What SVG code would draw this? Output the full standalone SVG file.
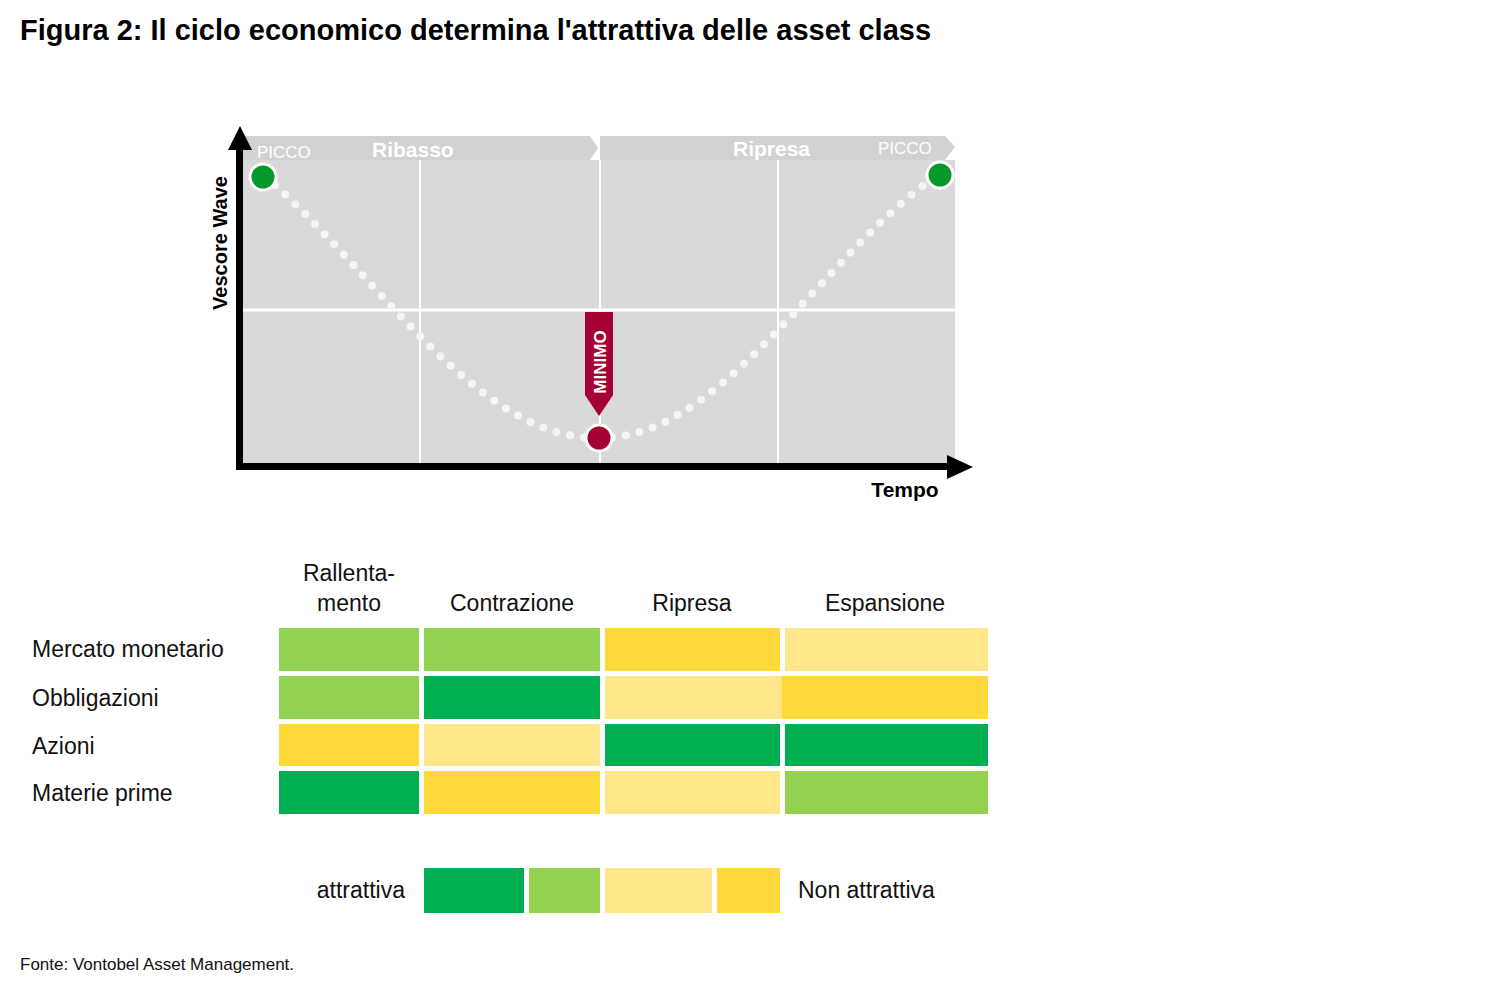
<svg xmlns="http://www.w3.org/2000/svg" width="1500" height="989" viewBox="0 0 1500 989">
<style>
text{font-family:"Liberation Sans",Arial,sans-serif}
.lbl{font-size:23px;fill:#111}
.g1{fill:#00b050}.g2{fill:#92d050}.y1{fill:#ffe68a}.y2{fill:#ffd93a}
.hdr{font-size:21px;font-weight:bold;fill:#fff}
.pk{font-size:17px;fill:#fff}
</style>
<rect width="1500" height="989" fill="#fff"/>
<text x="20" y="40" font-size="29" font-weight="bold" fill="#000">Figura 2: Il ciclo economico determina l'attrattiva delle asset class</text>
<g id="chart">
<rect x="243" y="160" width="712" height="305" fill="#d9d9d9"/>
<g stroke="#fff" stroke-width="2">
<line x1="420" y1="160" x2="420" y2="465"/><line x1="600" y1="160" x2="600" y2="465"/><line x1="778" y1="160" x2="778" y2="465"/>
<line x1="243" y1="310" x2="955" y2="310" stroke-width="3"/>
</g>
<polygon points="243,136 590,136 598,148 590,160 243,160" fill="#d2d2d2"/>
<polygon points="600,136 945,136 955,147 945,160 600,160" fill="#d2d2d2"/>
<text class="pk" x="257" y="158">PICCO</text>
<text class="hdr" x="372" y="157">Ribasso</text>
<text class="hdr" x="733" y="156">Ripresa</text>
<text class="pk" x="878" y="154">PICCO</text>
<path d="M275,185 C380,280 480,440 599,438 C720,440 820,260 928,182" fill="none" stroke="#f5f5f5" stroke-width="8" stroke-linecap="round" stroke-dasharray="0 14"/>
<circle cx="263" cy="177" r="13" fill="#079a2b" stroke="#fff" stroke-width="3"/>
<circle cx="940" cy="175" r="13" fill="#079a2b" stroke="#fff" stroke-width="3"/>
<circle cx="599" cy="438" r="13" fill="#a50034" stroke="#fff" stroke-width="3"/>
<polygon points="585,312 613,312 613,395 599,416 585,395" fill="#a50034"/>
<text transform="translate(606,362) rotate(-90)" text-anchor="middle" font-size="17" font-weight="bold" fill="#fff">MINIMO</text>
<g fill="#000">
<rect x="236" y="145" width="7" height="325"/>
<polygon points="240,126 228,150 252,150"/>
<rect x="236" y="463" width="715" height="7"/>
<polygon points="973,467 947,455 947,479"/>
</g>
<text transform="translate(227,243) rotate(-90)" text-anchor="middle" font-size="20" font-weight="bold">Vescore Wave</text>
<text x="905" y="497" text-anchor="middle" font-size="21" font-weight="bold">Tempo</text>
</g>
<g id="table">
<text class="lbl" x="349" y="581" text-anchor="middle">Rallenta-</text>
<text class="lbl" x="349" y="611" text-anchor="middle">mento</text>
<text class="lbl" x="512" y="611" text-anchor="middle">Contrazione</text>
<text class="lbl" x="692" y="611" text-anchor="middle">Ripresa</text>
<text class="lbl" x="885" y="611" text-anchor="middle">Espansione</text>
<text class="lbl" x="32" y="657">Mercato monetario</text>
<text class="lbl" x="32" y="706">Obbligazioni</text>
<text class="lbl" x="32" y="754">Azioni</text>
<text class="lbl" x="32" y="801">Materie prime</text>
<rect class="g2" x="279" y="628" width="140" height="43"/><rect class="g2" x="424" y="628" width="176" height="43"/><rect class="y2" x="605" y="628" width="175" height="43"/><rect class="y1" x="785" y="628" width="203" height="43"/>
<rect class="g2" x="279" y="676" width="140" height="43"/><rect class="g1" x="424" y="676" width="176" height="43"/><rect class="y1" x="605" y="676" width="177" height="43"/><rect class="y2" x="782" y="676" width="206" height="43"/>
<rect class="y2" x="279" y="724" width="140" height="42"/><rect class="y1" x="424" y="724" width="176" height="42"/><rect class="g1" x="605" y="724" width="175" height="42"/><rect class="g1" x="785" y="724" width="203" height="42"/>
<rect class="g1" x="279" y="771" width="140" height="43"/><rect class="y2" x="424" y="771" width="176" height="43"/><rect class="y1" x="605" y="771" width="175" height="43"/><rect class="g2" x="785" y="771" width="203" height="43"/>
</g>
<g id="legend">
<text class="lbl" x="405" y="898" text-anchor="end">attrattiva</text>
<rect class="g1" x="424" y="868" width="100" height="45"/><rect class="g2" x="529" y="868" width="71" height="45"/><rect class="y1" x="605" y="868" width="107" height="45"/><rect class="y2" x="717" y="868" width="63" height="45"/>
<text class="lbl" x="798" y="898">Non attrattiva</text>
</g>
<text x="20" y="970" font-size="17" fill="#111">Fonte: Vontobel Asset Management.</text>
</svg>
